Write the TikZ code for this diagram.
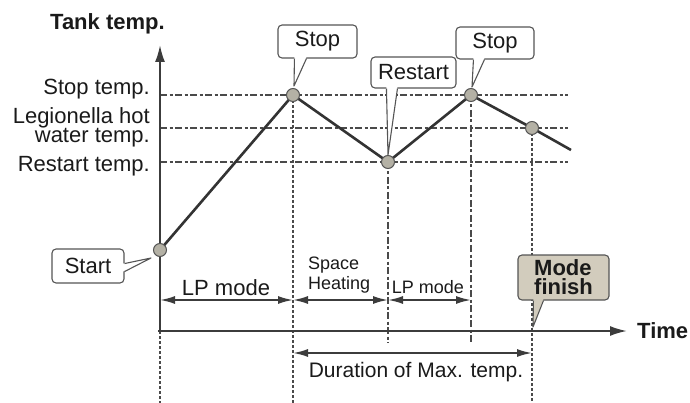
\documentclass[tikz,border=0pt]{standalone}
\usepackage{fontspec}
\setmainfont{Liberation Sans}
\usetikzlibrary{arrows.meta,calc}
\definecolor{bord}{HTML}{555555}
\definecolor{gridc}{HTML}{4A4A4A}
\definecolor{axc}{HTML}{3C3C3C}
\definecolor{curvc}{HTML}{333333}
\definecolor{dotb}{HTML}{555555}
\definecolor{dotfill}{HTML}{B4B1A5}
\definecolor{boxfill}{HTML}{D2CCBD}
\definecolor{txtc}{HTML}{1A1A1A}
\begin{document}
\begin{tikzpicture}[x=1pt,y=-1pt,
  txt/.style={font=\fontsize{22}{19}\selectfont, text=txtc, inner sep=0pt},
  smalltxt/.style={font=\fontsize{18}{20}\selectfont, text=txtc, inner sep=0pt},
  cbox/.style={draw=bord, line width=1.1pt, rounded corners=4pt, fill=white, inner sep=0pt, font=\fontsize{22}{19}\selectfont, text=txtc},
  cbord/.style={draw=bord, line width=1.1pt, line join=round},
  gridline/.style={draw=gridc, line width=1.5pt, dash pattern=on 7pt off 2.5pt on 3pt off 2.5pt},
  vfine/.style={draw=gridc, line width=1.2pt, dash pattern=on 3pt off 2pt},
  vlong/.style={draw=gridc, line width=1.4pt, dash pattern=on 7pt off 2.5pt on 3pt off 2.5pt},
  axis/.style={draw=axc, line width=2pt, -{Latex[length=17pt,width=10pt]}},
  dim/.style={draw=axc, line width=1.8pt, {Latex[length=15pt,width=8pt]}-{Latex[length=15pt,width=8pt]}},
  curve/.style={draw=curvc, line width=2.6pt, line join=round},
  dot/.style={circle, draw=dotb, fill=dotfill, line width=1pt, minimum size=13pt, inner sep=0pt},
]
\useasboundingbox (0,0) rectangle (690,403);

% key coordinates
\coordinate (O) at (160,331);
\coordinate (Ytop) at (160,45);
\coordinate (Xend) at (627,331);
\coordinate (Obot) at (160,403);
\coordinate (p0) at (160,250);
\coordinate (p1) at (293,95);
\coordinate (p2) at (388,162);
\coordinate (p3) at (471,95);
\coordinate (p4) at (532,128);
\coordinate (p5) at (571,150);
\coordinate (hs1) at (160,95);  \coordinate (he1) at (568,95);
\coordinate (hs2) at (160,128); \coordinate (he2) at (568,128);
\coordinate (hs3) at (160,162); \coordinate (he3) at (568,162);
\coordinate (v1b) at (293,403);
\coordinate (v2b) at (388,343);
\coordinate (v3b) at (471,343);
\coordinate (v4b) at (532,403);
\coordinate (a0) at (160,300);
\coordinate (a1) at (293,300);
\coordinate (a2) at (388,300);
\coordinate (a3) at (471,300);
\coordinate (d0) at (293,353);
\coordinate (d1) at (532,353);

% grid lines
\draw[gridline] (hs1) -- (he1);
\draw[gridline] (hs2) -- (he2);
\draw[gridline] (hs3) -- (he3);
\draw[vfine] (O) -- (Obot);
\draw[vfine] (p1) -- (v1b);
\draw[vlong] (p2) -- (v2b);
\draw[vlong] (p3) -- (v3b);
\draw[vfine] (p4) -- (v4b);

% axes
\draw[axis] (O) -- (Ytop);
\draw[axis] ([xshift=-2pt]O) -- (Xend);

% curve
\draw[curve] (p0) -- (p1) -- (p2) -- (p3) -- (p4) -- (p5);
\node[dot] (n0) at (p0) {};
\node[dot] (n1) at (p1) {};
\node[dot] (n2) at (p2) {};
\node[dot] (n3) at (p3) {};
\node[dot] (n4) at (p4) {};

% dimension arrows
\draw[dim] (a0) -- (a1);
\draw[dim] (a1) -- (a2);
\draw[dim] (a2) -- (a3);
\draw[dim] (d0) -- (d1);

% axis labels
\node[txt, font=\fontsize{22}{19}\selectfont\bfseries, anchor=base west] (tank) at (50,30) {Tank temp.};
\node[txt, font=\fontsize{22}{19}\selectfont\bfseries, anchor=west] (time) at (637,331) {Time};
\node[txt, anchor=base east] (lstop) at (150,95) {Stop temp.};
\node[txt, anchor=east, align=right] (lleg) at (150,127) {Legionella hot\\water temp.};
\node[txt, anchor=base east] (lres) at (150,172) {Restart temp.};

% segment labels
\node[txt, anchor=base] (lp1) at (226,295) {LP mode};
\node[smalltxt, anchor=west, align=left] (sh) at (308,275) {Space\\Heating};
\node[smalltxt, anchor=base] (lp2) at (428,293) {LP mode};
\node[txt, font=\fontsize{21}{19}\selectfont, anchor=base] (dur) at (416,377) {Duration of Max. temp.};

% callouts
\node[cbox, minimum width=79pt, minimum height=33pt] (stop1) at (317.5,41.5) {Stop};
\coordinate (s1a) at ($(stop1.south west)+(17,0)$);
\coordinate (s1b) at ($(stop1.south west)+(29,0)$);
\coordinate (s1t) at (294,86);
\fill[white] ($(s1a)+(0,-1.5)$) -- ($(s1b)+(0,-1.5)$) -- (s1t) -- cycle;
\draw[cbord] (s1a) -- (s1t) -- (s1b);

\node[cbox, minimum width=85pt, minimum height=31pt] (restart) at (413.5,72.5) {Restart};
\coordinate (r1a) at ($(restart.south west)+(16,0)$);
\coordinate (r1b) at ($(restart.south west)+(27,0)$);
\coordinate (r1t) at (388,155);
\fill[white] ($(r1a)+(0,-1.5)$) -- ($(r1b)+(0,-1.5)$) -- (r1t) -- cycle;
\draw[cbord] (r1a) -- (r1t) -- (r1b);

\node[cbox, minimum width=78pt, minimum height=32pt] (stop2) at (495,43) {Stop};
\coordinate (s2a) at ($(stop2.south west)+(18,0)$);
\coordinate (s2b) at ($(stop2.south west)+(29,0)$);
\coordinate (s2t) at (472,87);
\fill[white] ($(s2a)+(0,-1.5)$) -- ($(s2b)+(0,-1.5)$) -- (s2t) -- cycle;
\draw[cbord] (s2a) -- (s2t) -- (s2b);

\node[cbox, minimum width=72pt, minimum height=34pt] (start) at (88,266) {Start};
\coordinate (sta) at ($(start.south east)+(0,-20)$);
\coordinate (stb) at ($(start.south east)+(0,-12)$);
\coordinate (stt) at (151,258);
\fill[white] ($(sta)+(-1.5,0)$) -- ($(stb)+(-1.5,0)$) -- (stt) -- cycle;
\draw[cbord] (sta) -- (stt) -- (stb);

\node[cbox, fill=boxfill, font=\fontsize{22}{19}\selectfont\bfseries, align=left, minimum width=91pt, minimum height=45pt] (modef) at (563.5,277.5) {Mode\\finish};
\coordinate (mfa) at ($(modef.south west)+(16,0)$);
\coordinate (mfb) at ($(modef.south west)+(26,0)$);
\coordinate (mft) at (533,327);
\fill[boxfill] ($(mfa)+(0,-1.5)$) -- ($(mfb)+(0,-1.5)$) -- (mft) -- cycle;
\draw[cbord] (mfa) -- (mft) -- (mfb);
\end{tikzpicture}
\end{document}
